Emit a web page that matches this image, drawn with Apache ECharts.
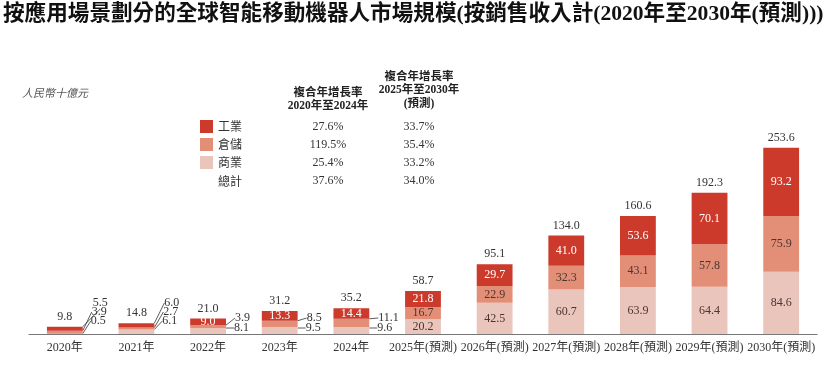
<!DOCTYPE html>
<html><head><meta charset="utf-8">
<script src="https://cdn.jsdelivr.net/npm/echarts@6/dist/echarts.min.js"></script>
<style>html,body{margin:0;padding:0;background:#fff}#c{width:830px;height:371px}</style>
</head><body><div id="c"></div>
<script>
const categories = ['2020年','2021年','2022年','2023年','2024年','2025年(預測)','2026年(預測)','2027年(預測)','2028年(預測)','2029年(預測)','2030年(預測)'];
const industrial = [5.5, 6.0, 9.0, 13.3, 14.4, 21.8, 29.7, 41.0, 53.6, 70.1, 93.2];
const warehouse  = [3.9, 2.7, 3.9, 8.5, 11.1, 16.7, 22.9, 32.3, 43.1, 57.8, 75.9];
const commercial = [0.5, 6.1, 8.1, 9.5, 9.6, 20.2, 42.5, 60.7, 63.9, 64.4, 84.6];
const totals     = [9.8, 14.8, 21.0, 31.2, 35.2, 58.7, 95.1, 134.0, 160.6, 192.3, 253.6];
const seriesNames = ['工業','倉儲','商業'];
const rowNames = ['工業','倉儲','商業','總計'];
const cagr2020to2024 = ['27.6%','119.5%','25.4%','37.6%'];
const cagr2025to2030 = ['33.7%','35.4%','33.2%','34.0%'];
const unitLabel = '人民幣十億元';

const SERIF = "'Liberation Serif','Noto Sans CJK TC',serif";
const colors = ['#CC3A2B','#E38E77','#EAC5BC'];
const chart = echarts.init(document.getElementById('c'));
const gridBottom = 37;

// callout config: last index that uses leader line, and vertical offsets above baseline
const calloutUntil = [1, 4, 4];
const offsetsThree = [31, 22, 13];
const offsetsTwo = [null, 16, 6];
const dxs = [10, 9, 8];

function buildData(values, s) {
  return values.map((v, i) => i <= calloutUntil[s]
    ? { value: v, label: { color: '#333' }, labelLine: { show: true, lineStyle: { color: '#333', width: 0.8 } } }
    : v);
}
function makeLayout(s) {
  return function (p) {
    const i = p.dataIndex;
    if (i > calloutUntil[s]) return {};
    const base = chart.getHeight() - gridBottom;
    const off = i <= 1 ? offsetsThree[s] : offsetsTwo[s];
    const r = p.rect;
    const lx = r.x + r.width + dxs[s];
    const ly = base - off;
    return {
      x: lx, y: ly, align: 'left', verticalAlign: 'middle',
      labelLinePoints: [[r.x + r.width - 3, r.y + r.height / 2], [lx - 1.5, ly + 4], [lx - 1, ly + 4]]
    };
  };
}

const barSeries = seriesNames.map((n, s) => ({
  name: n, type: 'bar', stack: 'all', barWidth: '50%',
  data: buildData([industrial, warehouse, commercial][s], s),
  itemStyle: { color: colors[s] },
  label: {
    show: true, position: 'inside', fontFamily: SERIF, fontSize: 12,
    color: s === 0 ? '#fff' : '#4a3530',
    formatter: p => Number(p.value).toFixed(1)
  },
  labelLayout: makeLayout(s),
  z: 3 - s
})).reverse();

const graphics = [];
graphics.push({ type: 'text', left: 22, top: 87, style: { text: unitLabel, font: "italic 11px 'Noto Sans CJK TC'", fill: '#555' } });
const col1 = 328, col2 = 419;
const hdrFont = "bold 11.5px 'Liberation Serif','Noto Sans CJK TC'";
[['複合年增長率', 93], ['2020年至2024年', 106]].forEach(([t, y]) =>
  graphics.push({ type: 'text', x: col1, y: y, style: { text: t, font: hdrFont, fill: '#222', textAlign: 'center', textVerticalAlign: 'middle' } }));
[['複合年增長率', 77], ['2025年至2030年', 90], ['(預測)', 104]].forEach(([t, y]) =>
  graphics.push({ type: 'text', x: col2, y: y, style: { text: t, font: hdrFont, fill: '#222', textAlign: 'center', textVerticalAlign: 'middle' } }));
const rowY = [127, 145, 163, 181];
rowNames.forEach((n, k) => {
  if (k === 3) graphics.push({ type: 'text', x: 218, y: rowY[k], style: { text: n, font: "12px 'Noto Sans CJK TC'", fill: '#333', textVerticalAlign: 'middle' } });
  graphics.push({ type: 'text', x: col1, y: rowY[k], style: { text: cagr2020to2024[k], font: "12px " + SERIF, fill: '#333', textAlign: 'center', textVerticalAlign: 'middle' } });
  graphics.push({ type: 'text', x: col2, y: rowY[k], style: { text: cagr2025to2030[k], font: "12px " + SERIF, fill: '#333', textAlign: 'center', textVerticalAlign: 'middle' } });
});

chart.setOption({
  animation: false,
  title: {
    text: '按應用場景劃分的全球智能移動機器人市場規模(按銷售收入計(2020年至2030年(預測)))',
    left: 3, top: 4, padding: 0,
    textStyle: { fontFamily: SERIF, fontSize: 21.6, fontWeight: 'bold', color: '#111' }
  },
  legend: {
    data: seriesNames, orient: 'vertical', left: 200, top: 120, padding: 0,
    itemWidth: 13, itemHeight: 13, itemGap: 5, icon: 'rect',
    textStyle: { fontFamily: "'Noto Sans CJK TC'", fontSize: 12, color: '#333', lineHeight: 13 }
  },
  graphic: graphics,
  grid: { left: 29, right: 13, top: 143, bottom: gridBottom },
  xAxis: {
    type: 'category', data: categories,
    axisLine: { lineStyle: { color: '#777', width: 1.2 } },
    axisTick: { show: false },
    axisLabel: { fontFamily: SERIF, fontSize: 12, color: '#333', margin: 8, interval: 0 }
  },
  yAxis: { type: 'value', min: 0, max: 260, show: false, splitLine: { show: false } },
  series: barSeries.concat([{
    name: '總計', type: 'bar', barWidth: '50%', barGap: '-100%',
    data: totals, itemStyle: { color: 'transparent' }, silent: true,
    label: { show: true, position: 'top', distance: 4, fontFamily: SERIF, fontSize: 12, color: '#333', formatter: p => p.value.toFixed(1) },
    z: 1
  }])
});
</script></body></html>
